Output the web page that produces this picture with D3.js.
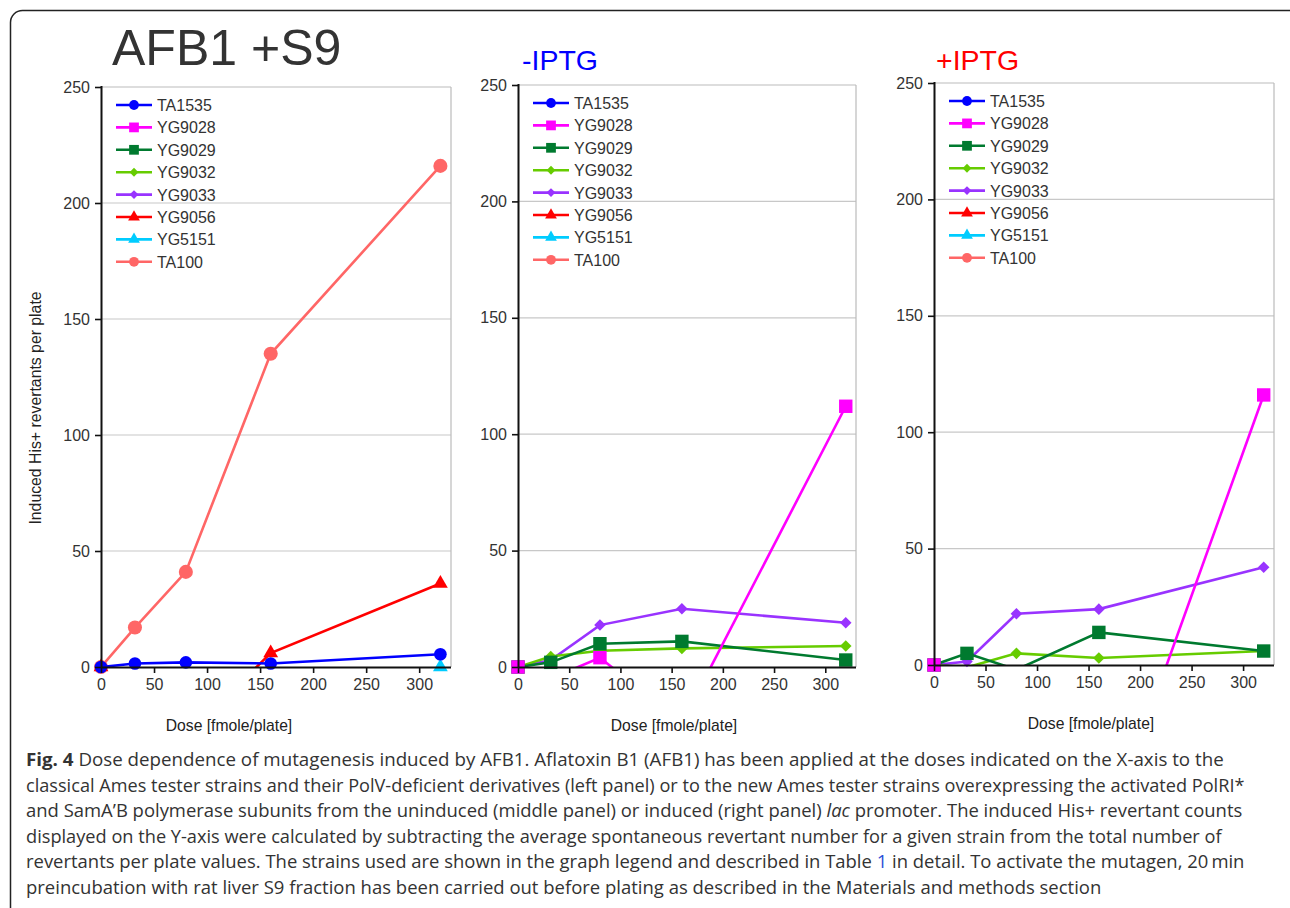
<!DOCTYPE html>
<html>
<head>
<meta charset="utf-8">
<script src="https://cdn.jsdelivr.net/npm/d3@7"></script>
<style>
  body { margin: 0; background: #fff; }
  svg { display: block; font-family: "Liberation Sans", Arial, sans-serif; }
</style>
</head>
<body>
<div class="container"></div>
<script>
const width = 1290;
const height = 908;

// doses on the x axis, fmole/plate
const doses = [0, 32, 80, 160, 320];

const strains = ['TA1535', 'YG9028', 'YG9029', 'YG9032', 'YG9033', 'YG9056', 'YG5151', 'TA100'];
const strainColors = ['#0000ff', '#ff00ff', '#007a2f', '#66cc00', '#9933ff', '#ff0000', '#00ccff', '#ff6666'];
const strainSymbols = ['circle', 'square', 'square', 'diamond', 'diamond', 'triangle', 'triangle', 'circle'];

// induced revertants per plate (null = not plotted), order follows doses
// left panel: AFB1 +S9
const s9TA1535 = [0, 1.5, 2, 1.5, 5.5];
const s9YG9056 = [0, -15, -30, 6, 36];
const s9YG5151 = [null, null, null, null, 0];
const s9TA100 = [0, 17, 41, 135, 216];
// middle panel: -IPTG
const minusYG9028 = [0, -5, 4, -24, 112];
const minusYG9029 = [0, 2, 10, 11, 3];
const minusYG9032 = [0, 4.5, 7, 8, 9];
const minusYG9033 = [0, 3, 18, 25, 19];
// right panel: +IPTG
const plusYG9028 = [0, -20, -50, -81, 116];
const plusYG9029 = [0, 5, -2, 14, 6];
const plusYG9032 = [0, -1, 5, 3, 6];
const plusYG9033 = [0, 1.5, 22, 24, 42];

const yTicks = [0, 50, 100, 150, 200, 250];
const xTicks = [0, 50, 100, 150, 200, 250, 300];

const panels = [
    { left: 101, right: 451, top: 87, bottom: 667, doseX: 229,
      series: { TA1535: s9TA1535, YG9056: s9YG9056, YG5151: s9YG5151, TA100: s9TA100 } },
    { left: 518, right: 856, top: 85, bottom: 667, doseX: 674,
      series: { YG9028: minusYG9028, YG9029: minusYG9029, YG9032: minusYG9032, YG9033: minusYG9033 } },
    { left: 934, right: 1274, top: 83, bottom: 665, doseX: 1091,
      series: { YG9028: plusYG9028, YG9029: plusYG9029, YG9032: plusYG9032, YG9033: plusYG9033 } }
];

const symbolTypes = {
    circle: d3.symbolCircle,
    square: d3.symbolSquare,
    diamond: d3.symbolDiamond2,
    triangle: d3.symbolTriangle
};
const markerSize = { circle: 125, square: 180, diamond: 85, triangle: 95 };
const legendSize = { circle: 75, square: 95, diamond: 50, triangle: 60 };

const svg = d3.select('.container')
    .append('svg')
    .attr('width', width)
    .attr('height', height);

// outer rounded frame
svg.append('rect')
    .attr('x', 10.5).attr('y', 10.5)
    .attr('width', 1300).attr('height', 1000)
    .attr('rx', 12)
    .attr('fill', 'none')
    .attr('stroke', '#222')
    .attr('stroke-width', 1.5);

// panel titles
svg.append('text').attr('x', 112).attr('y', 65)
    .attr('font-size', 50).attr('fill', '#333').text('AFB1 +S9');
svg.append('text').attr('x', 522).attr('y', 70)
    .attr('font-size', 28.5).attr('fill', '#0000ff').text('-IPTG');
svg.append('text').attr('x', 936).attr('y', 70)
    .attr('font-size', 28.5).attr('fill', '#ff0000').text('+IPTG');

// y axis label (left panel only)
svg.append('text')
    .attr('transform', 'translate(41,408) rotate(-90)')
    .attr('text-anchor', 'middle')
    .attr('font-size', 15.8).attr('fill', '#222')
    .text('Induced His+ revertants per plate');

panels.forEach((p, i) => {
    const x = d3.scaleLinear().domain([0, 330]).range([p.left, p.right]);
    const y = d3.scaleLinear().domain([0, 250]).range([p.bottom, p.top]);
    const g = svg.append('g');

    // gridlines
    g.append('g')
        .selectAll('line')
        .data(yTicks.filter(t => t > 0))
        .enter()
        .append('line')
        .attr('x1', p.left).attr('x2', p.right)
        .attr('y1', d => y(d)).attr('y2', d => y(d))
        .attr('stroke', d => d === 250 ? '#bbb' : '#c8c8c8')
        .attr('stroke-width', 1.2);
    g.append('line')
        .attr('x1', p.right).attr('x2', p.right)
        .attr('y1', p.top).attr('y2', p.bottom)
        .attr('stroke', '#bbb').attr('stroke-width', 1.2);

    // clip the lines to the plot area
    const clipId = 'clip' + i;
    svg.append('clipPath').attr('id', clipId)
        .append('rect')
        .attr('x', p.left).attr('y', p.top)
        .attr('width', p.right - p.left).attr('height', p.bottom - p.top);

    const line = d3.line()
        .defined(d => d.v !== null)
        .x(d => x(d.dose))
        .y(d => y(d.v));

    const names = Object.keys(p.series);
    // later strains first, so TA1535 ends on top as in the original
    const order = strains.filter(s => names.includes(s)).reverse();
    order.forEach(name => {
        const k = strains.indexOf(name);
        const pts = doses.map((dose, j) => ({ dose: dose, v: p.series[name][j] }));
        g.append('path')
            .datum(pts)
            .attr('clip-path', `url(#${clipId})`)
            .attr('d', line)
            .attr('fill', 'none')
            .attr('stroke', strainColors[k])
            .attr('stroke-width', 2.6);
        g.selectAll(null)
            .data(pts.filter(d => d.v !== null && d.v >= 0))
            .enter()
            .append('path')
            .attr('transform', d => `translate(${x(d.dose)},${y(d.v)})`)
            .attr('d', d3.symbol(symbolTypes[strainSymbols[k]], markerSize[strainSymbols[k]] * (name === 'TA100' ? 1.25 : 1)))
            .attr('fill', strainColors[k]);
    });

    // axes
    const yAxis = g.append('g')
        .attr('transform', `translate(${p.left},0)`)
        .call(d3.axisLeft(y).tickValues(yTicks).tickSize(6).tickPadding(5));
    const xAxis = g.append('g')
        .attr('transform', `translate(0,${p.bottom})`)
        .call(d3.axisBottom(x).tickValues(xTicks).tickSize(6).tickPadding(6));
    [yAxis, xAxis].forEach(a => {
        a.select('.domain').attr('stroke', '#111').attr('stroke-width', 2).attr('d',
            a === yAxis ? `M0.5,${p.bottom}V${p.top - 1}` : `M${p.left},0.5H${p.right}`);
        a.selectAll('.tick line').attr('stroke', '#111').attr('stroke-width', 1.6);
        a.selectAll('.tick text').attr('font-size', 16).attr('fill', '#333')
            .attr('font-family', '"Liberation Sans", Arial, sans-serif');
    });

    // x axis title
    g.append('text')
        .attr('x', p.doseX).attr('y', p.bottom + 64)
        .attr('text-anchor', 'middle')
        .attr('font-size', 15.7).attr('fill', '#222')
        .text('Dose [fmole/plate]');

    // legend
    const legend = g.append('g')
        .attr('transform', `translate(${p.left + 15},${p.top + 18})`);
    strains.forEach((name, k) => {
        const row = legend.append('g').attr('transform', `translate(0,${k * 22.4})`);
        row.append('line')
            .attr('x1', 0).attr('x2', 36)
            .attr('stroke', strainColors[k]).attr('stroke-width', 2.6);
        row.append('path')
            .attr('transform', 'translate(18,0)')
            .attr('d', d3.symbol(symbolTypes[strainSymbols[k]], legendSize[strainSymbols[k]]))
            .attr('fill', strainColors[k]);
        row.append('text')
            .attr('x', 41).attr('y', 6)
            .attr('font-size', 16).attr('fill', '#333')
            .text(name);
    });
});

// caption
const captionLines = [
    [['Fig. 4', 'bold'], [' Dose dependence of mutagenesis induced by AFB1. Aflatoxin B1 (AFB1) has been applied at the doses indicated on the X-axis to the']],
    [['classical Ames tester strains and their PolV-deficient derivatives (left panel) or to the new Ames tester strains overexpressing the activated PolRI*']],
    [['and SamA\u2019B polymerase subunits from the uninduced (middle panel) or induced (right panel) '], ['lac', 'italic'], [' promoter. The induced His+ revertant counts']],
    [['displayed on the Y-axis were calculated by subtracting the average spontaneous revertant number for a given strain from the total number of']],
    [['revertants per plate values. The strains used are shown in the graph legend and described in Table '], ['1', 'link'], [' in detail. To activate the mutagen, 20\u2009min']],
    [['preincubation with rat liver S9 fraction has been carried out before plating as described in the Materials and methods section']]
];
const captionEnds = [1225, 1245, 1243, 1222, 1245, 1102];

captionLines.forEach((parts, i) => {
    const lg = svg.append('g');
    const t = lg.append('text')
        .attr('font-family', '"Open Sans", sans-serif')
        .attr('font-size', 18.5)
        .attr('fill', '#333');
    parts.forEach(([s, style]) => {
        const ts = t.append('tspan').text(s);
        if (style === 'bold') ts.attr('font-weight', 'bold');
        if (style === 'italic') ts.attr('font-style', 'italic');
        if (style === 'link') ts.attr('fill', '#2a4fd8');
    });
    const w = t.node().getComputedTextLength();
    const sx = (captionEnds[i] - 26) / w;
    lg.attr('transform', `translate(26,${766 + i * 25.6}) scale(${sx},1)`);
});
</script>
</body>
</html>
